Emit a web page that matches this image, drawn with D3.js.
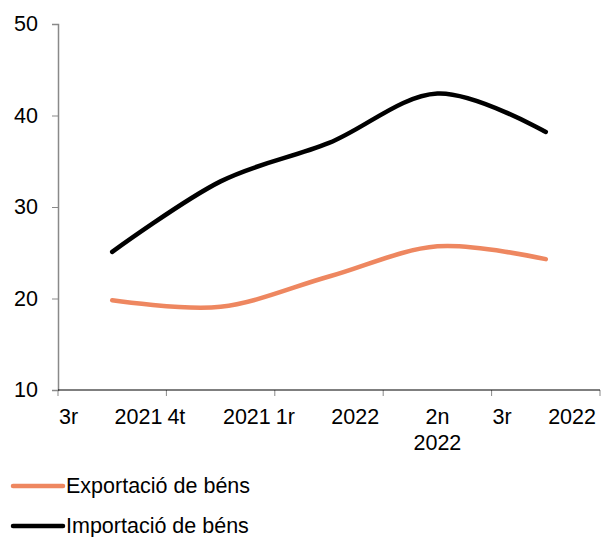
<!DOCTYPE html>
<html>
<head>
<meta charset="utf-8">
<script src="https://cdn.jsdelivr.net/npm/d3@7"></script>
<style>
  body { margin: 0; background: #fff; }
  text { font-family: "Liberation Sans", Arial, sans-serif; fill: #000; }
</style>
</head>
<body>
<div id="chart"></div>
<script>

// data
const quarters = [["3r", "2021"], ["4t", "2021"], ["1r", "2022"], ["2n", "2022"], ["3r", "2022"]]
const exportacio = [19.8, 19.1, 22.4, 25.7, 24.3]
const importacio = [25.1, 32.8, 37.0, 42.4, 38.2]
const yTicks = [10, 20, 30, 40, 50]
const seriesNames = ["Exportació de béns", "Importació de béns"]
const seriesColors = ["#ee8760", "#000000"]

const W = 603, H = 537
const margin = ({top: 24, right: 3, bottom: 147, left: 58})
const width = W - margin.left - margin.right,
  height = H - margin.top - margin.bottom
const fontSize = 21.5

const svg = d3.select("#chart").append("svg")
  .attr("width", W)
  .attr("height", H)

const g = svg.append("g")
  .attr("transform", "translate(" + margin.left + "," + margin.top + ")")

const xScale = d3.scaleBand()
  .domain(d3.range(quarters.length))
  .range([0, width])

const yScale = d3.scaleLinear()
  .domain([10, 50])
  .range([height, 0])

// y axis
const yAxis = d3.axisLeft(yScale)
  .tickValues(yTicks)
  .tickSize(6)
  .tickPadding(14)

g.append("g")
  .attr("class", "axis y-axis")
  .call(yAxis)
  .call(a => a.select(".domain").attr("stroke", "#898989").attr("stroke-width", 1.5))
  .call(a => a.selectAll(".tick line").attr("stroke", "#898989"))
  .call(a => a.selectAll(".tick text").attr("font-size", fontSize).attr("font-family", "Liberation Sans, Arial, sans-serif").attr("fill", "#000"))

// x axis: ticks on band edges
const edges = d3.range(quarters.length + 1).map(i => i * xScale.bandwidth())
const xAxisG = g.append("g").attr("transform", `translate(0, ${height})`)
xAxisG.selectAll("line.tick")
  .data(edges)
  .enter().append("line")
  .attr("x1", d => d).attr("x2", d => d)
  .attr("y1", 0).attr("y2", 6)
  .attr("stroke", "#898989")
xAxisG.append("line")
  .attr("x1", 0).attr("x2", width)
  .attr("stroke", "#000").attr("stroke-width", 1.2)

// category labels, spread like the original
quarters.forEach((q, i) => {
  const x0 = xScale(i), bw = xScale.bandwidth()
  if (i === 3) {
    xAxisG.append("text")
      .attr("x", x0 + bw / 2).attr("y", 34)
      .attr("text-anchor", "middle").attr("font-size", fontSize)
      .text(q[0])
    xAxisG.append("text")
      .attr("x", x0 + bw / 2).attr("y", 60)
      .attr("text-anchor", "middle").attr("font-size", fontSize)
      .text(q[1])
  } else {
    xAxisG.append("text")
      .attr("x", x0 + 1).attr("y", 34)
      .attr("text-anchor", "start").attr("font-size", fontSize)
      .text(q[0])
    xAxisG.append("text")
      .attr("x", x0 + bw - 4).attr("y", 34)
      .attr("text-anchor", "end").attr("font-size", fontSize)
      .text(q[1])
  }
})

// lines
const line = d3.line()
  .x((d, i) => xScale(i) + xScale.bandwidth() / 2)
  .y(d => yScale(d))
  .curve(d3.curveCardinal.tension(0))

;[exportacio, importacio].forEach((s, k) => {
  g.append("path")
    .datum(s)
    .attr("fill", "none")
    .attr("stroke", seriesColors[k])
    .attr("stroke-width", 4.5)
    .attr("stroke-linecap", "round")
    .attr("d", line)
})

// legend
const legend = svg.append("g")
seriesNames.forEach((name, k) => {
  const y = 486 + k * 40
  legend.append("line")
    .attr("x1", 13).attr("x2", 63)
    .attr("y1", y).attr("y2", y)
    .attr("stroke", seriesColors[k])
    .attr("stroke-width", 4.5)
    .attr("stroke-linecap", "round")
  legend.append("text")
    .attr("x", 66).attr("y", y + 7)
    .attr("font-size", fontSize)
    .text(name)
})

</script>
</body>
</html>
